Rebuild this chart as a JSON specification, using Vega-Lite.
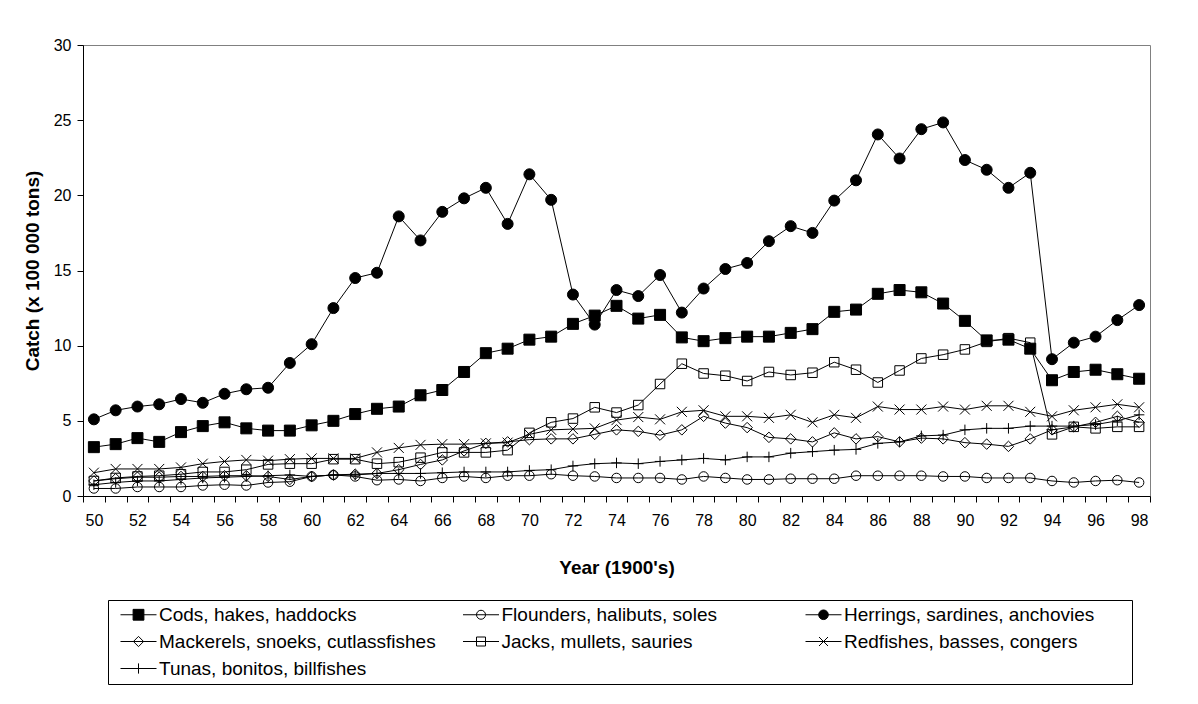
{
 "$schema": "https://vega.github.io/schema/vega-lite/v6.json",
 "width": 1067,
 "height": 451,
 "autosize": {"type": "none"},
 "padding": {"left": 83, "top": 45, "right": 48, "bottom": 208},
 "background": "white",
 "data": {"values": [
{"series":"Cods, hakes, haddocks","year":50,"catch":3.25},{"series":"Cods, hakes, haddocks","year":51,"catch":3.45},{"series":"Cods, hakes, haddocks","year":52,"catch":3.85},{"series":"Cods, hakes, haddocks","year":53,"catch":3.6},{"series":"Cods, hakes, haddocks","year":54,"catch":4.25},{"series":"Cods, hakes, haddocks","year":55,"catch":4.65},{"series":"Cods, hakes, haddocks","year":56,"catch":4.9},{"series":"Cods, hakes, haddocks","year":57,"catch":4.5},{"series":"Cods, hakes, haddocks","year":58,"catch":4.35},{"series":"Cods, hakes, haddocks","year":59,"catch":4.35},{"series":"Cods, hakes, haddocks","year":60,"catch":4.7},{"series":"Cods, hakes, haddocks","year":61,"catch":5.0},{"series":"Cods, hakes, haddocks","year":62,"catch":5.45},{"series":"Cods, hakes, haddocks","year":63,"catch":5.8},{"series":"Cods, hakes, haddocks","year":64,"catch":5.95},{"series":"Cods, hakes, haddocks","year":65,"catch":6.7},{"series":"Cods, hakes, haddocks","year":66,"catch":7.05},{"series":"Cods, hakes, haddocks","year":67,"catch":8.25},{"series":"Cods, hakes, haddocks","year":68,"catch":9.5},{"series":"Cods, hakes, haddocks","year":69,"catch":9.8},{"series":"Cods, hakes, haddocks","year":70,"catch":10.4},{"series":"Cods, hakes, haddocks","year":71,"catch":10.6},{"series":"Cods, hakes, haddocks","year":72,"catch":11.45},{"series":"Cods, hakes, haddocks","year":73,"catch":12.0},{"series":"Cods, hakes, haddocks","year":74,"catch":12.65},{"series":"Cods, hakes, haddocks","year":75,"catch":11.8},{"series":"Cods, hakes, haddocks","year":76,"catch":12.05},{"series":"Cods, hakes, haddocks","year":77,"catch":10.55},{"series":"Cods, hakes, haddocks","year":78,"catch":10.3},{"series":"Cods, hakes, haddocks","year":79,"catch":10.5},{"series":"Cods, hakes, haddocks","year":80,"catch":10.6},{"series":"Cods, hakes, haddocks","year":81,"catch":10.6},{"series":"Cods, hakes, haddocks","year":82,"catch":10.85},{"series":"Cods, hakes, haddocks","year":83,"catch":11.1},{"series":"Cods, hakes, haddocks","year":84,"catch":12.25},{"series":"Cods, hakes, haddocks","year":85,"catch":12.4},{"series":"Cods, hakes, haddocks","year":86,"catch":13.45},{"series":"Cods, hakes, haddocks","year":87,"catch":13.7},{"series":"Cods, hakes, haddocks","year":88,"catch":13.55},{"series":"Cods, hakes, haddocks","year":89,"catch":12.8},{"series":"Cods, hakes, haddocks","year":90,"catch":11.65},{"series":"Cods, hakes, haddocks","year":91,"catch":10.35},{"series":"Cods, hakes, haddocks","year":92,"catch":10.4},{"series":"Cods, hakes, haddocks","year":93,"catch":9.8},{"series":"Cods, hakes, haddocks","year":94,"catch":7.7},{"series":"Cods, hakes, haddocks","year":95,"catch":8.25},{"series":"Cods, hakes, haddocks","year":96,"catch":8.4},{"series":"Cods, hakes, haddocks","year":97,"catch":8.1},{"series":"Cods, hakes, haddocks","year":98,"catch":7.8},
{"series":"Flounders, halibuts, soles","year":50,"catch":0.5},{"series":"Flounders, halibuts, soles","year":51,"catch":0.5},{"series":"Flounders, halibuts, soles","year":52,"catch":0.6},{"series":"Flounders, halibuts, soles","year":53,"catch":0.6},{"series":"Flounders, halibuts, soles","year":54,"catch":0.6},{"series":"Flounders, halibuts, soles","year":55,"catch":0.7},{"series":"Flounders, halibuts, soles","year":56,"catch":0.75},{"series":"Flounders, halibuts, soles","year":57,"catch":0.7},{"series":"Flounders, halibuts, soles","year":58,"catch":0.9},{"series":"Flounders, halibuts, soles","year":59,"catch":0.95},{"series":"Flounders, halibuts, soles","year":60,"catch":1.3},{"series":"Flounders, halibuts, soles","year":61,"catch":1.4},{"series":"Flounders, halibuts, soles","year":62,"catch":1.3},{"series":"Flounders, halibuts, soles","year":63,"catch":1.05},{"series":"Flounders, halibuts, soles","year":64,"catch":1.1},{"series":"Flounders, halibuts, soles","year":65,"catch":1.0},{"series":"Flounders, halibuts, soles","year":66,"catch":1.2},{"series":"Flounders, halibuts, soles","year":67,"catch":1.3},{"series":"Flounders, halibuts, soles","year":68,"catch":1.2},{"series":"Flounders, halibuts, soles","year":69,"catch":1.35},{"series":"Flounders, halibuts, soles","year":70,"catch":1.35},{"series":"Flounders, halibuts, soles","year":71,"catch":1.45},{"series":"Flounders, halibuts, soles","year":72,"catch":1.35},{"series":"Flounders, halibuts, soles","year":73,"catch":1.3},{"series":"Flounders, halibuts, soles","year":74,"catch":1.2},{"series":"Flounders, halibuts, soles","year":75,"catch":1.2},{"series":"Flounders, halibuts, soles","year":76,"catch":1.2},{"series":"Flounders, halibuts, soles","year":77,"catch":1.1},{"series":"Flounders, halibuts, soles","year":78,"catch":1.3},{"series":"Flounders, halibuts, soles","year":79,"catch":1.2},{"series":"Flounders, halibuts, soles","year":80,"catch":1.1},{"series":"Flounders, halibuts, soles","year":81,"catch":1.1},{"series":"Flounders, halibuts, soles","year":82,"catch":1.15},{"series":"Flounders, halibuts, soles","year":83,"catch":1.15},{"series":"Flounders, halibuts, soles","year":84,"catch":1.15},{"series":"Flounders, halibuts, soles","year":85,"catch":1.35},{"series":"Flounders, halibuts, soles","year":86,"catch":1.35},{"series":"Flounders, halibuts, soles","year":87,"catch":1.35},{"series":"Flounders, halibuts, soles","year":88,"catch":1.35},{"series":"Flounders, halibuts, soles","year":89,"catch":1.3},{"series":"Flounders, halibuts, soles","year":90,"catch":1.3},{"series":"Flounders, halibuts, soles","year":91,"catch":1.2},{"series":"Flounders, halibuts, soles","year":92,"catch":1.2},{"series":"Flounders, halibuts, soles","year":93,"catch":1.2},{"series":"Flounders, halibuts, soles","year":94,"catch":1.0},{"series":"Flounders, halibuts, soles","year":95,"catch":0.9},{"series":"Flounders, halibuts, soles","year":96,"catch":1.0},{"series":"Flounders, halibuts, soles","year":97,"catch":1.05},{"series":"Flounders, halibuts, soles","year":98,"catch":0.9},
{"series":"Herrings, sardines, anchovies","year":50,"catch":5.1},{"series":"Herrings, sardines, anchovies","year":51,"catch":5.7},{"series":"Herrings, sardines, anchovies","year":52,"catch":5.95},{"series":"Herrings, sardines, anchovies","year":53,"catch":6.1},{"series":"Herrings, sardines, anchovies","year":54,"catch":6.45},{"series":"Herrings, sardines, anchovies","year":55,"catch":6.2},{"series":"Herrings, sardines, anchovies","year":56,"catch":6.8},{"series":"Herrings, sardines, anchovies","year":57,"catch":7.1},{"series":"Herrings, sardines, anchovies","year":58,"catch":7.2},{"series":"Herrings, sardines, anchovies","year":59,"catch":8.85},{"series":"Herrings, sardines, anchovies","year":60,"catch":10.1},{"series":"Herrings, sardines, anchovies","year":61,"catch":12.5},{"series":"Herrings, sardines, anchovies","year":62,"catch":14.5},{"series":"Herrings, sardines, anchovies","year":63,"catch":14.85},{"series":"Herrings, sardines, anchovies","year":64,"catch":18.6},{"series":"Herrings, sardines, anchovies","year":65,"catch":17.0},{"series":"Herrings, sardines, anchovies","year":66,"catch":18.9},{"series":"Herrings, sardines, anchovies","year":67,"catch":19.8},{"series":"Herrings, sardines, anchovies","year":68,"catch":20.5},{"series":"Herrings, sardines, anchovies","year":69,"catch":18.1},{"series":"Herrings, sardines, anchovies","year":70,"catch":21.4},{"series":"Herrings, sardines, anchovies","year":71,"catch":19.7},{"series":"Herrings, sardines, anchovies","year":72,"catch":13.4},{"series":"Herrings, sardines, anchovies","year":73,"catch":11.4},{"series":"Herrings, sardines, anchovies","year":74,"catch":13.7},{"series":"Herrings, sardines, anchovies","year":75,"catch":13.3},{"series":"Herrings, sardines, anchovies","year":76,"catch":14.7},{"series":"Herrings, sardines, anchovies","year":77,"catch":12.2},{"series":"Herrings, sardines, anchovies","year":78,"catch":13.8},{"series":"Herrings, sardines, anchovies","year":79,"catch":15.1},{"series":"Herrings, sardines, anchovies","year":80,"catch":15.5},{"series":"Herrings, sardines, anchovies","year":81,"catch":16.95},{"series":"Herrings, sardines, anchovies","year":82,"catch":17.95},{"series":"Herrings, sardines, anchovies","year":83,"catch":17.5},{"series":"Herrings, sardines, anchovies","year":84,"catch":19.65},{"series":"Herrings, sardines, anchovies","year":85,"catch":21.0},{"series":"Herrings, sardines, anchovies","year":86,"catch":24.05},{"series":"Herrings, sardines, anchovies","year":87,"catch":22.45},{"series":"Herrings, sardines, anchovies","year":88,"catch":24.4},{"series":"Herrings, sardines, anchovies","year":89,"catch":24.85},{"series":"Herrings, sardines, anchovies","year":90,"catch":22.35},{"series":"Herrings, sardines, anchovies","year":91,"catch":21.7},{"series":"Herrings, sardines, anchovies","year":92,"catch":20.5},{"series":"Herrings, sardines, anchovies","year":93,"catch":21.5},{"series":"Herrings, sardines, anchovies","year":94,"catch":9.1},{"series":"Herrings, sardines, anchovies","year":95,"catch":10.2},{"series":"Herrings, sardines, anchovies","year":96,"catch":10.6},{"series":"Herrings, sardines, anchovies","year":97,"catch":11.7},{"series":"Herrings, sardines, anchovies","year":98,"catch":12.7},
{"series":"Mackerels, snoeks, cutlassfishes","year":50,"catch":1.0},{"series":"Mackerels, snoeks, cutlassfishes","year":51,"catch":1.15},{"series":"Mackerels, snoeks, cutlassfishes","year":52,"catch":1.25},{"series":"Mackerels, snoeks, cutlassfishes","year":53,"catch":1.25},{"series":"Mackerels, snoeks, cutlassfishes","year":54,"catch":1.3},{"series":"Mackerels, snoeks, cutlassfishes","year":55,"catch":1.3},{"series":"Mackerels, snoeks, cutlassfishes","year":56,"catch":1.35},{"series":"Mackerels, snoeks, cutlassfishes","year":57,"catch":1.35},{"series":"Mackerels, snoeks, cutlassfishes","year":58,"catch":1.3},{"series":"Mackerels, snoeks, cutlassfishes","year":59,"catch":1.1},{"series":"Mackerels, snoeks, cutlassfishes","year":60,"catch":1.3},{"series":"Mackerels, snoeks, cutlassfishes","year":61,"catch":1.4},{"series":"Mackerels, snoeks, cutlassfishes","year":62,"catch":1.45},{"series":"Mackerels, snoeks, cutlassfishes","year":63,"catch":1.5},{"series":"Mackerels, snoeks, cutlassfishes","year":64,"catch":1.75},{"series":"Mackerels, snoeks, cutlassfishes","year":65,"catch":2.1},{"series":"Mackerels, snoeks, cutlassfishes","year":66,"catch":2.4},{"series":"Mackerels, snoeks, cutlassfishes","year":67,"catch":3.0},{"series":"Mackerels, snoeks, cutlassfishes","year":68,"catch":3.5},{"series":"Mackerels, snoeks, cutlassfishes","year":69,"catch":3.6},{"series":"Mackerels, snoeks, cutlassfishes","year":70,"catch":3.75},{"series":"Mackerels, snoeks, cutlassfishes","year":71,"catch":3.8},{"series":"Mackerels, snoeks, cutlassfishes","year":72,"catch":3.8},{"series":"Mackerels, snoeks, cutlassfishes","year":73,"catch":4.1},{"series":"Mackerels, snoeks, cutlassfishes","year":74,"catch":4.4},{"series":"Mackerels, snoeks, cutlassfishes","year":75,"catch":4.3},{"series":"Mackerels, snoeks, cutlassfishes","year":76,"catch":4.05},{"series":"Mackerels, snoeks, cutlassfishes","year":77,"catch":4.4},{"series":"Mackerels, snoeks, cutlassfishes","year":78,"catch":5.3},{"series":"Mackerels, snoeks, cutlassfishes","year":79,"catch":4.85},{"series":"Mackerels, snoeks, cutlassfishes","year":80,"catch":4.55},{"series":"Mackerels, snoeks, cutlassfishes","year":81,"catch":3.9},{"series":"Mackerels, snoeks, cutlassfishes","year":82,"catch":3.8},{"series":"Mackerels, snoeks, cutlassfishes","year":83,"catch":3.6},{"series":"Mackerels, snoeks, cutlassfishes","year":84,"catch":4.2},{"series":"Mackerels, snoeks, cutlassfishes","year":85,"catch":3.8},{"series":"Mackerels, snoeks, cutlassfishes","year":86,"catch":3.95},{"series":"Mackerels, snoeks, cutlassfishes","year":87,"catch":3.6},{"series":"Mackerels, snoeks, cutlassfishes","year":88,"catch":3.85},{"series":"Mackerels, snoeks, cutlassfishes","year":89,"catch":3.8},{"series":"Mackerels, snoeks, cutlassfishes","year":90,"catch":3.55},{"series":"Mackerels, snoeks, cutlassfishes","year":91,"catch":3.45},{"series":"Mackerels, snoeks, cutlassfishes","year":92,"catch":3.3},{"series":"Mackerels, snoeks, cutlassfishes","year":93,"catch":3.8},{"series":"Mackerels, snoeks, cutlassfishes","year":94,"catch":4.4},{"series":"Mackerels, snoeks, cutlassfishes","year":95,"catch":4.6},{"series":"Mackerels, snoeks, cutlassfishes","year":96,"catch":4.9},{"series":"Mackerels, snoeks, cutlassfishes","year":97,"catch":5.3},{"series":"Mackerels, snoeks, cutlassfishes","year":98,"catch":4.9},
{"series":"Jacks, mullets, sauries","year":50,"catch":1.0},{"series":"Jacks, mullets, sauries","year":51,"catch":1.2},{"series":"Jacks, mullets, sauries","year":52,"catch":1.3},{"series":"Jacks, mullets, sauries","year":53,"catch":1.35},{"series":"Jacks, mullets, sauries","year":54,"catch":1.45},{"series":"Jacks, mullets, sauries","year":55,"catch":1.6},{"series":"Jacks, mullets, sauries","year":56,"catch":1.6},{"series":"Jacks, mullets, sauries","year":57,"catch":1.75},{"series":"Jacks, mullets, sauries","year":58,"catch":2.1},{"series":"Jacks, mullets, sauries","year":59,"catch":2.15},{"series":"Jacks, mullets, sauries","year":60,"catch":2.15},{"series":"Jacks, mullets, sauries","year":61,"catch":2.45},{"series":"Jacks, mullets, sauries","year":62,"catch":2.45},{"series":"Jacks, mullets, sauries","year":63,"catch":2.15},{"series":"Jacks, mullets, sauries","year":64,"catch":2.25},{"series":"Jacks, mullets, sauries","year":65,"catch":2.55},{"series":"Jacks, mullets, sauries","year":66,"catch":2.9},{"series":"Jacks, mullets, sauries","year":67,"catch":2.9},{"series":"Jacks, mullets, sauries","year":68,"catch":2.9},{"series":"Jacks, mullets, sauries","year":69,"catch":3.05},{"series":"Jacks, mullets, sauries","year":70,"catch":4.2},{"series":"Jacks, mullets, sauries","year":71,"catch":4.9},{"series":"Jacks, mullets, sauries","year":72,"catch":5.15},{"series":"Jacks, mullets, sauries","year":73,"catch":5.9},{"series":"Jacks, mullets, sauries","year":74,"catch":5.55},{"series":"Jacks, mullets, sauries","year":75,"catch":6.05},{"series":"Jacks, mullets, sauries","year":76,"catch":7.45},{"series":"Jacks, mullets, sauries","year":77,"catch":8.8},{"series":"Jacks, mullets, sauries","year":78,"catch":8.15},{"series":"Jacks, mullets, sauries","year":79,"catch":8.0},{"series":"Jacks, mullets, sauries","year":80,"catch":7.65},{"series":"Jacks, mullets, sauries","year":81,"catch":8.25},{"series":"Jacks, mullets, sauries","year":82,"catch":8.05},{"series":"Jacks, mullets, sauries","year":83,"catch":8.2},{"series":"Jacks, mullets, sauries","year":84,"catch":8.9},{"series":"Jacks, mullets, sauries","year":85,"catch":8.4},{"series":"Jacks, mullets, sauries","year":86,"catch":7.55},{"series":"Jacks, mullets, sauries","year":87,"catch":8.35},{"series":"Jacks, mullets, sauries","year":88,"catch":9.15},{"series":"Jacks, mullets, sauries","year":89,"catch":9.4},{"series":"Jacks, mullets, sauries","year":90,"catch":9.75},{"series":"Jacks, mullets, sauries","year":91,"catch":10.25},{"series":"Jacks, mullets, sauries","year":92,"catch":10.5},{"series":"Jacks, mullets, sauries","year":93,"catch":10.2},{"series":"Jacks, mullets, sauries","year":94,"catch":4.1},{"series":"Jacks, mullets, sauries","year":95,"catch":4.6},{"series":"Jacks, mullets, sauries","year":96,"catch":4.5},{"series":"Jacks, mullets, sauries","year":97,"catch":4.6},{"series":"Jacks, mullets, sauries","year":98,"catch":4.6},
{"series":"Redfishes, basses, congers","year":50,"catch":1.55},{"series":"Redfishes, basses, congers","year":51,"catch":1.8},{"series":"Redfishes, basses, congers","year":52,"catch":1.8},{"series":"Redfishes, basses, congers","year":53,"catch":1.8},{"series":"Redfishes, basses, congers","year":54,"catch":1.9},{"series":"Redfishes, basses, congers","year":55,"catch":2.15},{"series":"Redfishes, basses, congers","year":56,"catch":2.3},{"series":"Redfishes, basses, congers","year":57,"catch":2.4},{"series":"Redfishes, basses, congers","year":58,"catch":2.35},{"series":"Redfishes, basses, congers","year":59,"catch":2.45},{"series":"Redfishes, basses, congers","year":60,"catch":2.5},{"series":"Redfishes, basses, congers","year":61,"catch":2.5},{"series":"Redfishes, basses, congers","year":62,"catch":2.5},{"series":"Redfishes, basses, congers","year":63,"catch":2.9},{"series":"Redfishes, basses, congers","year":64,"catch":3.2},{"series":"Redfishes, basses, congers","year":65,"catch":3.4},{"series":"Redfishes, basses, congers","year":66,"catch":3.45},{"series":"Redfishes, basses, congers","year":67,"catch":3.45},{"series":"Redfishes, basses, congers","year":68,"catch":3.5},{"series":"Redfishes, basses, congers","year":69,"catch":3.55},{"series":"Redfishes, basses, congers","year":70,"catch":4.1},{"series":"Redfishes, basses, congers","year":71,"catch":4.4},{"series":"Redfishes, basses, congers","year":72,"catch":4.45},{"series":"Redfishes, basses, congers","year":73,"catch":4.5},{"series":"Redfishes, basses, congers","year":74,"catch":5.05},{"series":"Redfishes, basses, congers","year":75,"catch":5.25},{"series":"Redfishes, basses, congers","year":76,"catch":5.1},{"series":"Redfishes, basses, congers","year":77,"catch":5.6},{"series":"Redfishes, basses, congers","year":78,"catch":5.7},{"series":"Redfishes, basses, congers","year":79,"catch":5.3},{"series":"Redfishes, basses, congers","year":80,"catch":5.3},{"series":"Redfishes, basses, congers","year":81,"catch":5.2},{"series":"Redfishes, basses, congers","year":82,"catch":5.4},{"series":"Redfishes, basses, congers","year":83,"catch":4.9},{"series":"Redfishes, basses, congers","year":84,"catch":5.4},{"series":"Redfishes, basses, congers","year":85,"catch":5.2},{"series":"Redfishes, basses, congers","year":86,"catch":5.95},{"series":"Redfishes, basses, congers","year":87,"catch":5.75},{"series":"Redfishes, basses, congers","year":88,"catch":5.75},{"series":"Redfishes, basses, congers","year":89,"catch":5.95},{"series":"Redfishes, basses, congers","year":90,"catch":5.75},{"series":"Redfishes, basses, congers","year":91,"catch":6.0},{"series":"Redfishes, basses, congers","year":92,"catch":6.0},{"series":"Redfishes, basses, congers","year":93,"catch":5.6},{"series":"Redfishes, basses, congers","year":94,"catch":5.3},{"series":"Redfishes, basses, congers","year":95,"catch":5.7},{"series":"Redfishes, basses, congers","year":96,"catch":5.9},{"series":"Redfishes, basses, congers","year":97,"catch":6.1},{"series":"Redfishes, basses, congers","year":98,"catch":5.9},
{"series":"Tunas, bonitos, billfishes","year":50,"catch":0.75},{"series":"Tunas, bonitos, billfishes","year":51,"catch":0.9},{"series":"Tunas, bonitos, billfishes","year":52,"catch":1.0},{"series":"Tunas, bonitos, billfishes","year":53,"catch":1.0},{"series":"Tunas, bonitos, billfishes","year":54,"catch":1.1},{"series":"Tunas, bonitos, billfishes","year":55,"catch":1.2},{"series":"Tunas, bonitos, billfishes","year":56,"catch":1.25},{"series":"Tunas, bonitos, billfishes","year":57,"catch":1.3},{"series":"Tunas, bonitos, billfishes","year":58,"catch":1.35},{"series":"Tunas, bonitos, billfishes","year":59,"catch":1.4},{"series":"Tunas, bonitos, billfishes","year":60,"catch":1.3},{"series":"Tunas, bonitos, billfishes","year":61,"catch":1.4},{"series":"Tunas, bonitos, billfishes","year":62,"catch":1.4},{"series":"Tunas, bonitos, billfishes","year":63,"catch":1.5},{"series":"Tunas, bonitos, billfishes","year":64,"catch":1.5},{"series":"Tunas, bonitos, billfishes","year":65,"catch":1.5},{"series":"Tunas, bonitos, billfishes","year":66,"catch":1.55},{"series":"Tunas, bonitos, billfishes","year":67,"catch":1.6},{"series":"Tunas, bonitos, billfishes","year":68,"catch":1.6},{"series":"Tunas, bonitos, billfishes","year":69,"catch":1.6},{"series":"Tunas, bonitos, billfishes","year":70,"catch":1.7},{"series":"Tunas, bonitos, billfishes","year":71,"catch":1.75},{"series":"Tunas, bonitos, billfishes","year":72,"catch":2.0},{"series":"Tunas, bonitos, billfishes","year":73,"catch":2.15},{"series":"Tunas, bonitos, billfishes","year":74,"catch":2.2},{"series":"Tunas, bonitos, billfishes","year":75,"catch":2.15},{"series":"Tunas, bonitos, billfishes","year":76,"catch":2.3},{"series":"Tunas, bonitos, billfishes","year":77,"catch":2.4},{"series":"Tunas, bonitos, billfishes","year":78,"catch":2.5},{"series":"Tunas, bonitos, billfishes","year":79,"catch":2.4},{"series":"Tunas, bonitos, billfishes","year":80,"catch":2.6},{"series":"Tunas, bonitos, billfishes","year":81,"catch":2.6},{"series":"Tunas, bonitos, billfishes","year":82,"catch":2.85},{"series":"Tunas, bonitos, billfishes","year":83,"catch":2.95},{"series":"Tunas, bonitos, billfishes","year":84,"catch":3.05},{"series":"Tunas, bonitos, billfishes","year":85,"catch":3.1},{"series":"Tunas, bonitos, billfishes","year":86,"catch":3.5},{"series":"Tunas, bonitos, billfishes","year":87,"catch":3.6},{"series":"Tunas, bonitos, billfishes","year":88,"catch":4.0},{"series":"Tunas, bonitos, billfishes","year":89,"catch":4.05},{"series":"Tunas, bonitos, billfishes","year":90,"catch":4.4},{"series":"Tunas, bonitos, billfishes","year":91,"catch":4.5},{"series":"Tunas, bonitos, billfishes","year":92,"catch":4.5},{"series":"Tunas, bonitos, billfishes","year":93,"catch":4.65},{"series":"Tunas, bonitos, billfishes","year":94,"catch":4.65},{"series":"Tunas, bonitos, billfishes","year":95,"catch":4.65},{"series":"Tunas, bonitos, billfishes","year":96,"catch":4.75},{"series":"Tunas, bonitos, billfishes","year":97,"catch":5.0},{"series":"Tunas, bonitos, billfishes","year":98,"catch":5.4}
 ]},
 "encoding": {
  "x": {"field": "year", "type": "ordinal",
        "scale": {"type": "band", "paddingInner": 0, "paddingOuter": 0},
        "axis": {"title": "Year (1900's)", "labelExpr": "datum.value % 2 == 0 ? datum.label : ''", "labelAngle": 0, "labelOverlap": false,
                 "tickBand": "extent", "tickSize": 6, "labelPadding": 18, "labelBaseline": "middle", "labelFontSize": 16,
                 "titleFontSize": 19, "titleFontWeight": "bold", "titleY": 71, "titleBaseline": "middle",
                 "domainColor": "black", "tickColor": "black", "labelColor": "black", "titleColor": "black", "grid": false}},
  "y": {"field": "catch", "type": "quantitative",
        "scale": {"domain": [0, 30], "nice": false},
        "axis": {"title": "Catch (x 100 000 tons)", "values": [0, 5, 10, 15, 20, 25, 30], "tickSize": 6, "labelPadding": 6,
                 "labelFontSize": 16, "titleFontSize": 19, "titleFontWeight": "bold", "titleX": -51, "titleBaseline": "middle",
                 "domainColor": "black", "tickColor": "black", "labelColor": "black", "titleColor": "black", "grid": false}}
 },
 "layer": [
  {"mark": {"type": "line", "stroke": "black", "strokeWidth": 1}, "encoding": {"detail": {"field": "series"}}},
  {"transform": [{"filter": "datum.series == 'Flounders, halibuts, soles'"}],
   "mark": {"type": "point", "shape": "circle", "size": 90, "filled": false, "stroke": "black", "strokeWidth": 1, "opacity": 1}},
  {"transform": [{"filter": "datum.series == 'Tunas, bonitos, billfishes'"}],
   "mark": {"type": "point", "shape": "M0,-1V1M-1,0H1", "size": 110, "filled": false, "stroke": "black", "strokeWidth": 1, "opacity": 1}},
  {"transform": [{"filter": "datum.series == 'Mackerels, snoeks, cutlassfishes'"}],
   "mark": {"type": "point", "shape": "diamond", "size": 110, "filled": false, "stroke": "black", "strokeWidth": 1, "opacity": 1}},
  {"transform": [{"filter": "datum.series == 'Jacks, mullets, sauries'"}],
   "mark": {"type": "point", "shape": "square", "size": 90, "filled": false, "stroke": "black", "strokeWidth": 1, "opacity": 1}},
  {"transform": [{"filter": "datum.series == 'Redfishes, basses, congers'"}],
   "mark": {"type": "point", "shape": "M-1,-1L1,1M-1,1L1,-1", "size": 100, "filled": false, "stroke": "black", "strokeWidth": 1, "opacity": 1}},
  {"transform": [{"filter": "datum.series == 'Cods, hakes, haddocks'"}],
   "mark": {"type": "point", "shape": "square", "size": 121, "filled": true, "fill": "black", "stroke": "black", "strokeWidth": 1, "opacity": 1}},
  {"transform": [{"filter": "datum.series == 'Herrings, sardines, anchovies'"}],
   "mark": {"type": "point", "shape": "circle", "size": 121, "filled": true, "fill": "black", "stroke": "black", "strokeWidth": 1, "opacity": 1}},
  {"transform": [{"filter": "false"}],
   "mark": {"type": "point", "filled": false, "stroke": "black", "strokeWidth": 1, "opacity": 1},
   "encoding": {
    "shape": {"field": "series", "type": "nominal",
      "scale": {"domain": ["Cods, hakes, haddocks", "Flounders, halibuts, soles", "Herrings, sardines, anchovies", "Mackerels, snoeks, cutlassfishes", "Jacks, mullets, sauries", "Redfishes, basses, congers", "Tunas, bonitos, billfishes"],
                "range": ["M-3,0H3M-0.9,-0.9H0.9V0.9H-0.9Z",
                          "M-3,0H3M0.75,0C0.75,0.414,0.414,0.75,0,0.75C-0.414,0.75,-0.75,0.414,-0.75,0C-0.75,-0.414,-0.414,-0.75,0,-0.75C0.414,-0.75,0.75,-0.414,0.75,0Z",
                          "M-3,0H3M0.8,0C0.8,0.442,0.442,0.8,0,0.8C-0.442,0.8,-0.8,0.442,-0.8,0C-0.8,-0.442,-0.442,-0.8,0,-0.8C0.442,-0.8,0.8,-0.442,0.8,0Z",
                          "M-3,0H3M0,-0.85L0.85,0L0,0.85L-0.85,0Z",
                          "M-3,0H3M-0.75,-0.75H0.75V0.75H-0.75Z",
                          "M-3,0H3M-0.75,-0.75L0.75,0.75M-0.75,0.75L0.75,-0.75",
                          "M-3,0H3M0,-0.85V0.85"]},
      "legend": {"orient": "none", "legendX": 25, "legendY": 555, "title": " ", "titleOrient": "right", "titlePadding": 33, "titleFontSize": 2,
                 "direction": "horizontal", "columns": 3,
                 "encoding": {"symbols": {"fill": {"condition": {"test": "datum.value == 'Cods, hakes, haddocks' || datum.value == 'Herrings, sardines, anchovies'", "value": "black"}, "value": "transparent"},
                                          "stroke": {"value": "black"}, "strokeWidth": {"value": 1}, "opacity": {"value": 1}}}}}
   }}
 ],
 "config": {
  "font": "Liberation Sans",
  "view": {"stroke": "#808080", "strokeWidth": 1},
  "axis": {"labelFont": "Liberation Sans", "titleFont": "Liberation Sans", "domainWidth": 1, "tickWidth": 1},
  "legend": {"columns": 3, "gridAlign": "all", "columnPadding": 19.5, "rowPadding": 7, "symbolOffset": 16, "labelOffset": 11,
             "symbolSize": 144, "symbolStrokeWidth": 1, "labelFontSize": 19, "labelFont": "Liberation Sans",
             "labelColor": "black", "labelLimit": 500, "padding": 5, "strokeColor": "black", "fillColor": "white"}
 }
}
